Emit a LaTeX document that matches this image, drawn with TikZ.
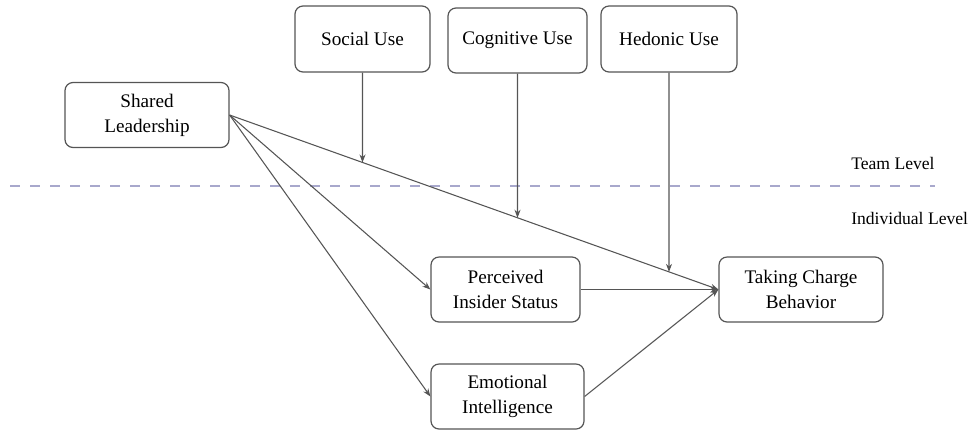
\documentclass[tikz,border=0pt]{standalone}
\usepackage{fontspec}
\setmainfont{Liberation Serif}
\usetikzlibrary{arrows.meta,calc,intersections}
\definecolor{linegray}{HTML}{555555}
\definecolor{dashcol}{HTML}{A8A8CC}
\begin{document}
\begin{tikzpicture}[x=0.75pt,y=-0.75pt,
  box/.style={draw=linegray, line width=0.9pt, rounded corners=6pt, align=center,
    inner sep=0pt, font=\fontsize{14.4}{18.75}\selectfont, fill=white},
  conn/.style={draw=linegray, line width=0.8pt, -{Stealth[length=6pt,width=4.5pt]}},
  lvl/.style={font=\fontsize{13.2}{16}\selectfont, inner sep=0pt, anchor=west}]
\useasboundingbox (0,0) rectangle (969,430);
% dashed level separator
\coordinate (dl) at (10,186);
\coordinate (dr) at (935,186);
\draw[dashcol, line width=1.4pt, dash pattern=on 7.5pt off 7.5pt] (dl) -- (dr);
\node[lvl] (team) at (851,163) {Team Level};
\node[lvl] (indiv) at (851,218) {Individual Level};
% boxes
\node[box, minimum width=135*0.75pt, minimum height=66*0.75pt] (su) at (362.5,39) {Social Use};
\node[box, minimum width=139*0.75pt, minimum height=65*0.75pt] (cu) at (517.5,40.5) {Cognitive Use};
\node[box, minimum width=136*0.75pt, minimum height=66*0.75pt] (hu) at (669,39) {Hedonic Use};
\node[box, minimum width=164*0.75pt, minimum height=65*0.75pt] (sl) at (147,115) {Shared\\Leadership};
\node[box, minimum width=149*0.75pt, minimum height=65*0.75pt] (pis) at (505.5,289.5) {Perceived\\Insider Status};
\node[box, minimum width=153*0.75pt, minimum height=65*0.75pt] (ei) at (507.5,396.5) {Emotional\\Intelligence};
\node[box, minimum width=164*0.75pt, minimum height=65*0.75pt] (tc) at (801,289.5) {Taking Charge\\Behavior};
% main line and intersection points
\path[name path=main] (sl.east) -- (tc.west);
\path[name path=v1] (su.south) -- ++(0,300);
\path[name path=v2] (cu.south) -- ++(0,300);
\path[name path=v3] (hu.south) -- ++(0,300);
\path[name intersections={of=main and v1, by=m1}];
\path[name intersections={of=main and v2, by=m2}];
\path[name intersections={of=main and v3, by=m3}];
% connectors
\draw[conn] (sl.east) -- (tc.west);
\draw[conn] (sl.east) -- (pis.west);
\draw[conn] (sl.east) -- (ei.west);
\draw[conn] (pis.east) -- (tc.west);
\draw[conn] (ei.east) -- (tc.west);
\draw[conn] (su.south) -- (m1);
\draw[conn] (cu.south) -- (m2);
\draw[conn] (hu.south) -- (m3);
\end{tikzpicture}
\end{document}
